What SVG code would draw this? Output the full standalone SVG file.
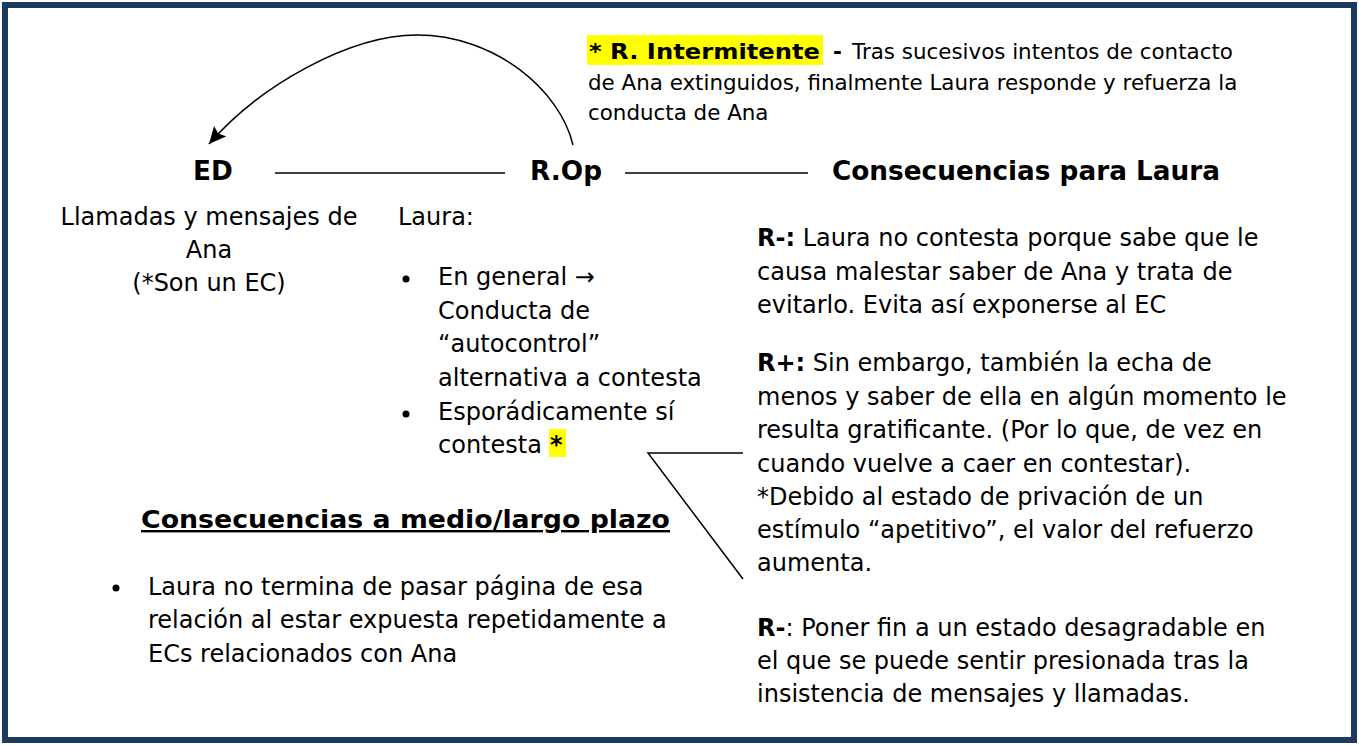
<svg xmlns="http://www.w3.org/2000/svg" width="1359" height="745" viewBox="0 0 1359 745">
<style>
.b{font-family:"DejaVu Sans","Verdana",sans-serif;font-size:24px;fill:#000}
.c{font-family:"DejaVu Sans","Verdana",sans-serif;font-size:21.4px;fill:#000}
.h{font-family:"DejaVu Sans","Verdana",sans-serif;font-size:26.3px;font-weight:bold;fill:#000}
.bold{font-weight:bold}
.ln{stroke:#000;stroke-width:1.5;fill:none}
.dot{fill:#000}
</style>
<defs>
<marker id="ah" markerWidth="20" markerHeight="18" refX="17" refY="8" orient="auto" markerUnits="userSpaceOnUse">
<path d="M0,0 L17,8 L0,16 L3,8 Z" fill="#000"/>
</marker>
</defs>
<rect x="0" y="0" width="1359" height="745" fill="#fff"/>
<rect x="5" y="5" width="1349" height="735" fill="none" stroke="#1b3a5e" stroke-width="6"/>

<g id="connectors">
<line class="ln" x1="275" y1="173" x2="505" y2="173"/>
<line class="ln" x1="625" y1="173" x2="808" y2="173"/>
<path class="ln" d="M573,145 C560,90 495,35 417,35 C350,35 260,85 209,144" stroke-width="2.2" marker-end="url(#ah)"/>
<polyline class="ln" points="743,453 648,453 743,579"/>
</g>

<g id="node-intermitente">
<rect x="587" y="35" width="236" height="30" fill="#ffff00"/>
<text class="c bold" x="589" y="59" font-size="23.5" textLength="231" lengthAdjust="spacingAndGlyphs">* R. Intermitente</text>
<text class="c bold" x="833" y="59" font-size="23">-</text>
<text class="c" x="852" y="59">Tras sucesivos intentos de contacto</text>
<text class="c" x="588" y="90">de Ana extinguidos, finalmente Laura responde y refuerza la</text>
<text class="c" x="588" y="120">conducta de Ana</text>
</g>

<g id="node-ed">
<text class="h" x="213" y="180" text-anchor="middle">ED</text>
<text class="b" x="209" y="225" text-anchor="middle">Llamadas y mensajes de</text>
<text class="b" x="209" y="258" text-anchor="middle">Ana</text>
<text class="b" x="209" y="291" text-anchor="middle">(*Son un EC)</text>
</g>

<g id="node-rop">
<text class="h" x="566" y="180" text-anchor="middle">R.Op</text>
<text class="b" x="398" y="225">Laura:</text>
<circle class="dot" cx="406" cy="279" r="3.5"/>
<circle class="dot" cx="406" cy="414" r="3.5"/>
<text class="b" x="438" y="285">En general →</text>
<text class="b" x="438" y="319">Conducta de</text>
<text class="b" x="438" y="352">“autocontrol”</text>
<text class="b" x="438" y="386">alternativa a contesta</text>
<text class="b" x="438" y="420">Esporádicamente sí</text>
<rect x="549" y="429" width="17" height="28" fill="#ffff00"/>
<text class="b" x="438" y="453">contesta</text>
<text class="b bold" x="550" y="453">*</text>
</g>

<g id="node-consecuencias-laura">
<text class="h" x="832" y="180">Consecuencias para Laura</text>
<text class="b" x="757" y="246"><tspan class="bold">R-:</tspan> Laura no contesta porque sabe que le</text>
<text class="b" x="757" y="280">causa malestar saber de Ana y trata de</text>
<text class="b" x="757" y="313">evitarlo. Evita así exponerse al EC</text>
<text class="b" x="757" y="371"><tspan class="bold">R+:</tspan> Sin embargo, también la echa de</text>
<text class="b" x="757" y="405">menos y saber de ella en algún momento le</text>
<text class="b" x="757" y="438">resulta gratificante. (Por lo que, de vez en</text>
<text class="b" x="757" y="472">cuando vuelve a caer en contestar).</text>
<text class="b" x="757" y="505">*Debido al estado de privación de un</text>
<text class="b" x="757" y="538">estímulo “apetitivo”, el valor del refuerzo</text>
<text class="b" x="757" y="571">aumenta.</text>
<text class="b" x="757" y="636"><tspan class="bold">R-</tspan>: Poner fin a un estado desagradable en</text>
<text class="b" x="757" y="669">el que se puede sentir presionada tras la</text>
<text class="b" x="757" y="702">insistencia de mensajes y llamadas.</text>
</g>

<g id="node-largo-plazo">
<text class="b bold" x="141" y="528" font-size="27.5" textLength="529" lengthAdjust="spacingAndGlyphs" text-decoration="underline">Consecuencias a medio/largo plazo</text>
<circle class="dot" cx="116" cy="588" r="3.5"/>
<text class="b" x="148" y="595">Laura no termina de pasar página de esa</text>
<text class="b" x="148" y="628">relación al estar expuesta repetidamente a</text>
<text class="b" x="148" y="662">ECs relacionados con Ana</text>
</g>
</svg>
